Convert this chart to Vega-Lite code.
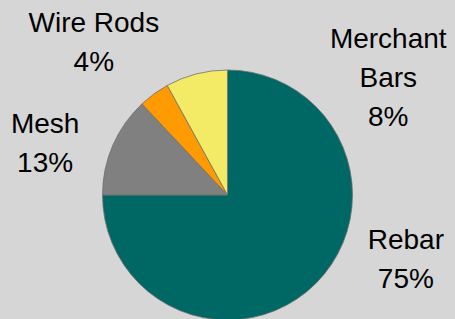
{
  "$schema": "https://vega.github.io/schema/vega-lite/v6.json",
  "width": 455,
  "height": 248,
  "autosize": "none",
  "padding": {"top": 71, "left": 0, "right": 0, "bottom": 0},
  "background": "#d6d6d6",
  "config": {"view": {"stroke": null}},
  "data": {
    "values": [
      {"category": "Rebar", "share": 75, "rank": 1},
      {"category": "Mesh", "share": 13, "rank": 2},
      {"category": "Wire Rods", "share": 4, "rank": 3},
      {"category": "Merchant Bars", "share": 8, "rank": 4}
    ]
  },
  "encoding": {
    "theta": {"field": "share", "type": "quantitative", "stack": true},
    "order": {"field": "rank", "type": "quantitative"}
  },
  "layer": [
    {
      "mark": {"type": "arc", "outerRadius": 125, "stroke": "#6f6f6f", "strokeWidth": 0.8},
      "encoding": {
        "color": {
          "field": "category",
          "type": "nominal",
          "scale": {
            "domain": ["Rebar", "Mesh", "Wire Rods", "Merchant Bars"],
            "range": ["#006864", "#808080", "#ff9a00", "#f3eb66"]
          },
          "legend": null
        }
      }
    },
    {
      "transform": [{"calculate": "datum.category == 'Rebar' ? [datum.category, datum.share + '%'] : ''", "as": "txt"}],
      "mark": {"type": "text", "radius": 190, "fontSize": 28, "font": "Liberation Sans", "lineHeight": 39, "align": "center", "baseline": "middle", "dx": 44, "dy": -88, "color": "#000000"},
      "encoding": {"text": {"field": "txt"}}
    },
    {
      "transform": [{"calculate": "datum.category == 'Mesh' ? [datum.category, datum.share + '%'] : ''", "as": "txt"}],
      "mark": {"type": "text", "radius": 190, "fontSize": 28, "font": "Liberation Sans", "lineHeight": 39, "align": "center", "baseline": "middle", "dx": -8, "dy": 5, "color": "#000000"},
      "encoding": {"text": {"field": "txt"}}
    },
    {
      "transform": [{"calculate": "datum.category == 'Wire Rods' ? [datum.category, datum.share + '%'] : ''", "as": "txt"}],
      "mark": {"type": "text", "radius": 190, "fontSize": 28, "font": "Liberation Sans", "lineHeight": 39, "align": "center", "baseline": "middle", "dx": -22, "dy": -17, "color": "#000000"},
      "encoding": {"text": {"field": "txt"}}
    },
    {
      "transform": [{"calculate": "datum.category == 'Merchant Bars' ? ['Merchant', 'Bars', datum.share + '%'] : ''", "as": "txt"}],
      "mark": {"type": "text", "radius": 190, "fontSize": 28, "font": "Liberation Sans", "lineHeight": 39, "align": "center", "baseline": "middle", "dx": 208, "dy": 29, "color": "#000000"},
      "encoding": {"text": {"field": "txt"}}
    }
  ]
}
